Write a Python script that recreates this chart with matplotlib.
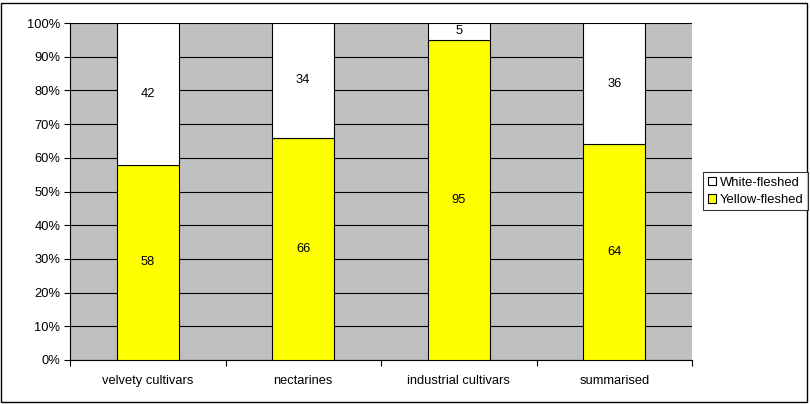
import matplotlib.pyplot as plt
from matplotlib.patches import Rectangle

categories = ["velvety cultivars", "nectarines", "industrial cultivars", "summarised"]
yellow = [58, 66, 95, 64]
white = [42, 34, 5, 36]

plt.rcParams["font.family"] = ["Liberation Sans", "DejaVu Sans"]
plt.rcParams["font.size"] = 9.3

fig = plt.figure(figsize=(8.1, 4.04), dpi=100)
ax = fig.add_axes([70 / 810, 44 / 404, 622 / 810, 337 / 404])
ax.set_facecolor("#C0C0C0")

x = range(len(categories))
ax.bar(x, yellow, width=0.4, color="#FFFF00", edgecolor="black", linewidth=0.8,
       label="Yellow-fleshed", zorder=3)
ax.bar(x, white, width=0.4, bottom=yellow, color="white", edgecolor="black",
       linewidth=0.8, label="White-fleshed", zorder=3)

for i in x:
    ax.text(i, yellow[i] / 2, str(yellow[i]), ha="center", va="center", zorder=4)
    ax.text(i, yellow[i] + white[i] / 2, str(white[i]), ha="center", va="center", zorder=4)

ax.set_xlim(-0.5, len(categories) - 0.5)
ax.set_ylim(0, 100)
ax.set_yticks(range(0, 101, 10))
ax.set_yticklabels([f"{v}%" for v in range(0, 101, 10)])
ax.yaxis.grid(True, color="black", linewidth=0.8, zorder=1)
ax.set_axisbelow(True)

ax.set_xticks(list(x))
ax.set_xticklabels(categories)
ax.tick_params(axis="x", length=0, pad=11)
ax.set_xticks([i + 0.5 for i in range(-1, len(categories))], minor=True)
ax.tick_params(axis="x", which="minor", length=4, direction="out", width=0.8)
ax.tick_params(axis="y", length=4, direction="out", width=0.8, pad=3)

for side in ["top", "right"]:
    ax.spines[side].set_visible(False)
ax.spines["left"].set_linewidth(0.8)
ax.spines["bottom"].set_linewidth(0.8)

handles, labels = ax.get_legend_handles_labels()
leg = fig.legend(handles[::-1], labels[::-1], loc="upper left",
                 bbox_to_anchor=(703 / 810, 1 - 172 / 404),
                 frameon=True, fancybox=False, edgecolor="black",
                 handlelength=0.65, handleheight=0.65, handletextpad=0.3,
                 borderpad=0.35, borderaxespad=0, labelspacing=0.4, fontsize=9.4)
leg.get_frame().set_linewidth(0.8)

fig.patches.append(Rectangle((1 / 810, 2 / 404), 806 / 810, 399 / 404,
                             transform=fig.transFigure, fill=False,
                             edgecolor="black", linewidth=1))

fig.savefig("out.png", dpi=100)
